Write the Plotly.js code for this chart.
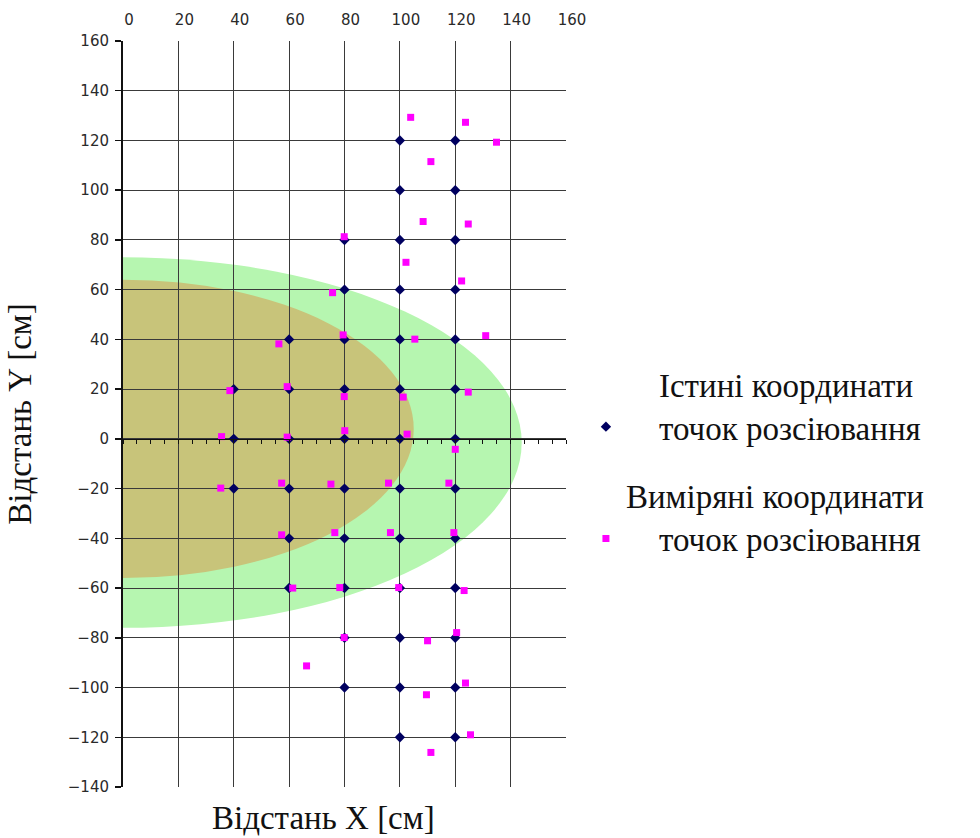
<!DOCTYPE html>
<html>
<head>
<meta charset="utf-8">
<script src="https://cdn.plot.ly/plotly-3.0.1.min.js"></script>
<style>
  html, body { margin: 0; padding: 0; background: #ffffff; }
  #chart { width: 980px; height: 838px; }
</style>
</head>
<body>
<div id="chart"></div>
<script>
// ---- data ----
const xRange = [0, 160];
const yRange = [-140, 160];
const xTickVals = [0, 20, 40, 60, 80, 100, 120, 140, 160];
const yTickVals = [-140, -120, -100, -80, -60, -40, -20, 0, 20, 40, 60, 80, 100, 120, 140, 160];

// true scattering point coordinates
const trueX = [40, 40, 40,
  60, 60, 60, 60, 60, 60,
  80, 80, 80, 80, 80, 80, 80, 80, 80, 80,
  100, 100, 100, 100, 100, 100, 100, 100, 100, 100, 100, 100, 100,
  120, 120, 120, 120, 120, 120, 120, 120, 120, 120, 120, 120, 120];
const trueY = [20, 0, -20,
  40, 20, 0, -20, -40, -60,
  80, 60, 40, 20, 0, -20, -40, -60, -80, -100,
  120, 100, 80, 60, 40, 20, 0, -20, -40, -60, -80, -100, -120,
  120, 100, 80, 60, 40, 20, 0, -20, -40, -60, -80, -100, -120];

// measured scattering point coordinates
const measX = [103.9, 123.7, 134.9, 111.2, 108.4, 124.7, 79.9, 102.2, 122.3, 75.7,
  131.0, 79.5, 105.4, 56.3, 38.6, 59.3, 79.9, 101.2, 124.7, 35.6,
  59.3, 80.1, 102.6, 120.0, 35.3, 57.3, 75.1, 95.9, 117.7, 57.3,
  76.5, 96.6, 119.5, 61.3, 78.3, 99.6, 123.2, 79.9, 110.0, 120.5,
  66.3, 123.7, 109.6, 125.5, 111.2];
const measY = [129.3, 127.3, 119.3, 111.5, 87.4, 86.4, 81.3, 71.0, 63.5, 58.8,
  41.5, 41.8, 40.1, 38.2, 19.4, 21.0, 17.0, 16.8, 18.8, 0.9,
  0.7, 3.3, 1.9, -4.2, -19.8, -17.8, -18.2, -17.8, -17.8, -38.6,
  -37.7, -37.7, -37.7, -60.0, -59.8, -59.8, -61.0, -79.9, -81.2, -77.9,
  -91.3, -98.2, -102.9, -119.0, -126.1];

// shaded zones: [centerX, centerY, radiusX, radiusY]
const outerZone = [0, -1.5, 144, 74.5];
const innerZone = [0, 4, 105, 60];

const NB = "\u00A0\u00A0\u00A0\u00A0";
const names = [
  NB + "Істині координати<br>" + NB + "точок розсіювання",
  "Виміряні координати<br>" + NB + "точок розсіювання"
];
const xTitle = "Відстань X [см]";
const yTitle = "Відстань Y [см]";

// ---- build ----
function zoneShape(z, color) {
  return {
    type: 'circle', xref: 'x', yref: 'y', layer: 'below',
    x0: z[0] - z[2], x1: z[0] + z[2], y0: z[1] - z[3], y1: z[1] + z[3],
    fillcolor: color, line: { width: 0 }
  };
}

const serif = 'Liberation Serif, Times New Roman, serif';
const sans = 'DejaVu Sans, Arial, sans-serif';

const traces = [
  {
    type: 'scatter', mode: 'markers', x: trueX, y: trueY, name: names[0],
    legendgroup: 'g1',
    marker: { symbol: 'diamond', size: 8, color: '#000060' },
    cliponaxis: false
  },
  {
    type: 'scatter', mode: 'markers', x: measX, y: measY, name: names[1],
    xaxis: 'x2', legendgroup: 'g2',
    marker: { symbol: 'square', size: 7, color: '#ff00ff' },
    cliponaxis: false
  }
];

const yZeroPos = (0 - yRange[0]) / (yRange[1] - yRange[0]);

const gridColor = '#3a3a3a';
const layout = {
  width: 980, height: 838,
  margin: { l: 123, r: 414, t: 41, b: 51 },
  paper_bgcolor: '#ffffff', plot_bgcolor: '#ffffff',
  showlegend: true,
  legend: {
    x: 1.045, xanchor: 'left', y: 0.578, yanchor: 'top',
    font: { family: serif, size: 33, color: '#111111' },
    traceorder: 'grouped', tracegroupgap: 23,
    bgcolor: 'rgba(0,0,0,0)', valign: 'bottom'
  },
  xaxis: {
    range: xRange, side: 'top', tickmode: 'array', tickvals: xTickVals,
    showgrid: true, gridcolor: gridColor, gridwidth: 1,
    zeroline: false, showline: false, ticks: '',
    tickfont: { family: sans, size: 15, color: '#2a2a2a' },
    ticklabelshift: 6, ticklabelstandoff: 12,
    fixedrange: true
  },
  xaxis2: {
    range: xRange, overlaying: 'x', anchor: 'free', position: yZeroPos, side: 'bottom',
    showgrid: false, zeroline: false, showline: true, linecolor: '#111111', linewidth: 1.5,
    ticks: 'outside', tickmode: 'linear', dtick: 5, tick0: 0, ticklen: 4, tickcolor: '#111111', tickwidth: 1,
    showticklabels: false, fixedrange: true
  },
  yaxis: {
    range: yRange, tickmode: 'array', tickvals: yTickVals,
    showgrid: true, gridcolor: gridColor, gridwidth: 1,
    zeroline: false, showline: true, linecolor: '#111111', linewidth: 2,
    ticks: 'outside', ticklen: 6, tickcolor: '#111111', tickwidth: 1.5,
    tickfont: { family: sans, size: 15, color: '#2a2a2a' },
    ticklabelstandoff: 3,
    title: { text: yTitle, standoff: 26, font: { family: serif, size: 33, color: '#111111' } },
    automargin: false, fixedrange: true
  },
  shapes: [
    zoneShape(outerZone, 'rgb(182,246,176)'),
    zoneShape(innerZone, 'rgb(200,196,122)')
  ],
  annotations: [{
    text: xTitle, xref: 'paper', yref: 'paper', x: 0.4515, y: -0.042,
    xanchor: 'center', yanchor: 'middle', showarrow: false,
    font: { family: serif, size: 33, color: '#111111' }
  }]
};

Plotly.newPlot('chart', traces, layout, { displayModeBar: false, staticPlot: true });
</script>
</body>
</html>
